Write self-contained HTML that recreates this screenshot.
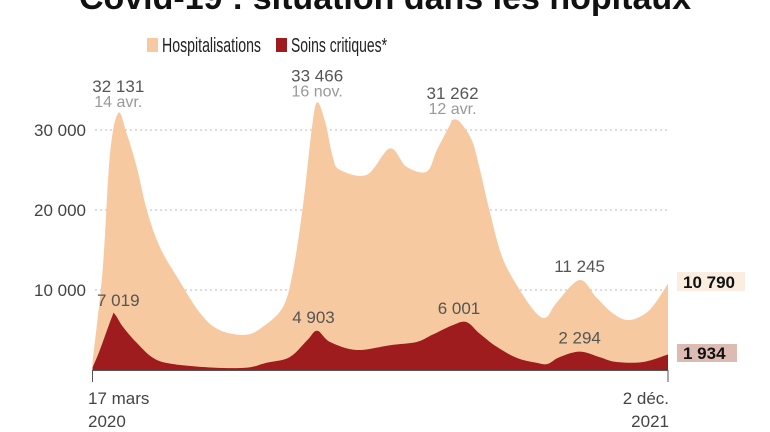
<!DOCTYPE html>
<html><head><meta charset="utf-8"><style>
html,body{margin:0;padding:0;background:#fff;}
svg{display:block;font-family:"Liberation Sans",sans-serif;}
</style></head><body>
<svg id="chart" width="770" height="432" viewBox="0 0 770 432">
<text x="385" y="9" text-anchor="middle" font-size="34" font-weight="bold" fill="#111">Covid-19 : situation dans les hôpitaux</text>
<g>
<rect x="147" y="38" width="11" height="14" fill="#f6c9a0"/>
<text x="162" y="52" font-size="20" fill="#222" textLength="99" lengthAdjust="spacingAndGlyphs">Hospitalisations</text>
<rect x="276" y="38" width="11" height="14" fill="#9e1b1e"/>
<text x="291" y="52" font-size="20" fill="#222" textLength="96" lengthAdjust="spacingAndGlyphs">Soins critiques*</text>
</g>
<g id="grid"></g>
<g id="areas"></g>
<g id="labels"></g>
</svg>
<script>
const hospDays = [0,11,19,28,37,48,59,73,92,117,138,166,185,207,218,229,238,244,253,261,269,298,323,341,363,374,388,391,399,412,420,431,445,464,482,493,504,529,547,565,583,605,625];
const hospValues = [900,12500,27000,32131,29600,25400,20000,15400,11600,7100,5000,4400,5400,7900,12500,20900,30000,33466,30900,26600,25000,24400,27700,25400,24800,27500,30600,31262,31000,28700,25400,20000,14100,10000,7100,6600,8400,11245,9100,7100,6250,7500,10790];
const critDays = [0,8,21,24,33,48,66,87,131,168,189,214,233,244,258,287,323,352,369,391,406,420,439,461,482,494,507,529,551,569,598,625];
const critValues = [300,2500,6600,7019,5400,3400,1500,750,300,300,900,1600,3700,4903,3500,2500,3100,3500,4400,5600,6001,4600,2900,1500,900,750,1600,2294,1600,1000,1000,1934];
const yTicks = [10000,20000,30000];
const yTickLabels = ["10 000","20 000","30 000"];
const peakLabels = [
 {day:28, value:32131, text:"32 131", sub:"14 avr."},
 {day:244, value:33466, text:"33 466", sub:"16 nov."},
 {day:391, value:31262, text:"31 262", sub:"12 avr."},
 {day:529, value:11245, text:"11 245", sub:""},
 {day:28, value:7019, text:"7 019", sub:""},
 {day:240, value:4903, text:"4 903", sub:""},
 {day:398, value:6001, text:"6 001", sub:""},
 {day:529, value:2294, text:"2 294", sub:""}
];
const lastDay = 625;
const NS="http://www.w3.org/2000/svg";
const x0=92.5, x1=668, yBase=370, pxPer1000=8;
const xs=d=>x0+(x1-x0)*d/lastDay;
const ys=v=>yBase-v*pxPer1000/1000;
function mk(tag,attrs,parent){const e=document.createElementNS(NS,tag);for(const k in attrs)e.setAttribute(k,attrs[k]);parent.appendChild(e);return e;}
const grid=document.getElementById('grid'),areas=document.getElementById('areas'),labels=document.getElementById('labels');
yTicks.forEach((t,i)=>{
 const l=mk('line',{x1:95,x2:668,y1:ys(t),y2:ys(t),stroke:'#bbb','stroke-dasharray':'2,3','stroke-width':1},grid);
 
 
 const tx=mk('text',{x:86,y:ys(t)+6,'text-anchor':'end','font-size':17,fill:'#444'},grid);
 tx.textContent=yTickLabels[i];
 
 
});
function smoothPath(days,vals){
 const p=days.map((d,i)=>[xs(d),ys(vals[i])]);
 let s='M'+xs(days[0])+','+yBase+' L'+p[0][0]+','+p[0][1];
 for(let i=0;i<p.length-1;i++){
  const a=p[i-1]||p[i],b=p[i],c=p[i+1],d=p[i+2]||c;
  const c1=[b[0]+(c[0]-a[0])/6,b[1]+(c[1]-a[1])/6],c2=[c[0]-(d[0]-b[0])/6,c[1]-(d[1]-b[1])/6];
  s+=' C'+c1+' '+c2+' '+c;
 }
 return s+' L'+xs(days[days.length-1])+','+yBase+' Z';
}
const ha=mk('path',{d:smoothPath(hospDays,hospValues),fill:'#f6c9a0'},areas);


const ca=mk('path',{d:smoothPath(critDays,critValues),fill:'#9e1b1e'},areas);


const ax=mk('line',{x1:92.5,x2:668,y1:370.5,y2:370.5,stroke:'#555','stroke-width':1},areas);


[[92.5],[668]].forEach(([x])=>{const t=mk('line',{x1:x,x2:x,y1:370,y2:382,stroke:'#555'},areas);
 
 });
const xl=[[88,398,'start','17 mars'],[88,421,'start','2020'],[669,398,'end','2 déc.'],[669,421,'end','2021']];
xl.forEach(a=>{const t=mk('text',{x:a[0],y:a[1]+6,'text-anchor':a[2],'font-size':17,fill:'#444'},labels);t.textContent=a[3];
 
 });
peakLabels.forEach(p=>{
 const x=xs(p.day), y=ys(p.value);
 const top=p.sub?y-21:y-8;
 const t=mk('text',{x:x,y:top,'text-anchor':'middle','font-size':17,fill:'#555'},labels);t.textContent=p.text;
 
 
 if(p.sub){const s=mk('text',{x:x,y:y-6,'text-anchor':'middle','font-size':16,fill:'#999'},labels);s.textContent=p.sub;
  
  }
});
const endH=hospValues[hospValues.length-1], endC=critValues[critValues.length-1];
const fmt=v=>String(v).replace(/\B(?=(\d{3})+(?!\d))/g,' ');
const r1=mk('rect',{x:677,y:272,width:68,height:19,fill:'#fbeee0'},labels);


const t1=mk('text',{x:683,y:288,'font-size':17,'font-weight':'bold',fill:'#111'},labels);t1.textContent=fmt(endH);


const r2=mk('rect',{x:677,y:344,width:60,height:18,fill:'#dcbcb2'},labels);


const t2=mk('text',{x:683,y:359,'font-size':17,'font-weight':'bold',fill:'#111'},labels);t2.textContent=fmt(endC);


</script>
</body></html>
